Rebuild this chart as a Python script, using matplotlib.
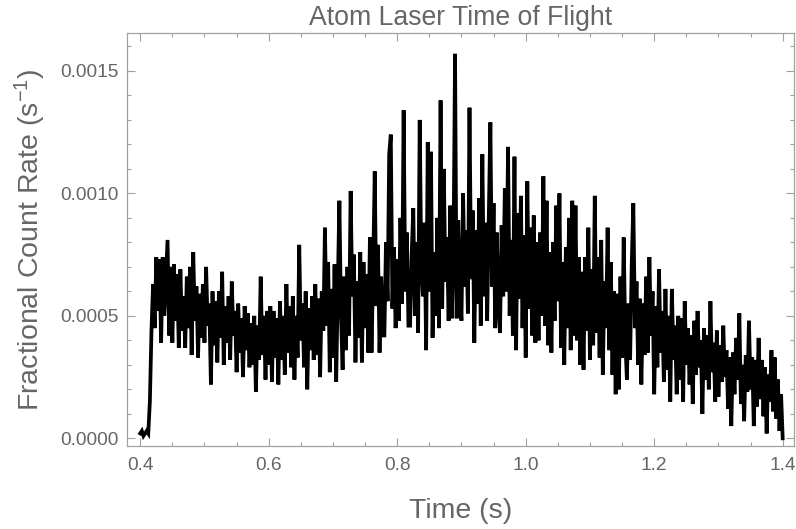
import numpy as np
import matplotlib
matplotlib.use("Agg")
import matplotlib.pyplot as plt
from matplotlib.ticker import MultipleLocator, FormatStrFormatter

# time of flight trace, sampled every 2.5 ms from 0.40 s to 1.40 s
# values read off the picture, in units of 1e-4 s^-1
t_start = 0.40
t_step = 0.0025
rate_e4 = [
    0.2, 0.3, 0.1, 0.2, 0.3, 0.2, 1.5, 4.4,
    6.3, 4.5, 7.4, 5.2, 7.3, 3.9, 7.4, 5.0,
    6.6, 8.1, 4.2, 7.0, 3.9, 7.1, 4.8, 6.7,
    3.7, 6.9, 4.4, 5.8, 3.7, 6.6, 4.5, 7.0,
    3.4, 7.6, 4.8, 6.2, 3.3, 5.9, 4.1, 6.3,
    3.9, 7.0, 4.6, 5.5, 2.2, 6.0, 3.8, 5.6,
    3.1, 6.0, 4.1, 6.8, 3.0, 5.4, 3.9, 5.8,
    3.2, 6.4, 4.2, 5.2, 2.7, 5.5, 3.5, 4.9,
    2.5, 5.4, 3.6, 5.1, 2.9, 4.7, 3.0, 5.0,
    1.9, 4.6, 3.2, 6.6, 3.4, 5.0, 2.4, 5.2,
    3.0, 5.4, 2.3, 5.2, 3.3, 4.9, 2.2, 5.6,
    3.2, 5.0, 2.6, 6.3, 3.5, 5.4, 2.9, 5.8,
    2.4, 5.0, 3.3, 7.9, 4.0, 5.5, 2.9, 6.0,
    2.0, 5.3, 3.6, 5.8, 3.2, 6.3, 3.4, 5.7,
    2.5, 6.0, 4.4, 8.6, 4.6, 7.2, 2.7, 6.1,
    3.3, 7.1, 2.3, 6.2, 9.7, 5.0, 2.8, 6.6,
    3.6, 7.0, 4.2, 10.1, 5.8, 7.5, 3.1, 6.4,
    4.1, 7.6, 3.1, 7.2, 4.5, 6.7, 3.5, 8.2,
    3.5, 6.9, 10.9, 5.4, 7.9, 3.5, 6.6, 4.2,
    4.2, 8.0, 5.6, 11.6, 12.4, 5.3, 7.8, 4.5,
    7.3, 4.8, 9.0, 5.5, 13.4, 6.0, 8.4, 4.6,
    4.6, 7.5, 9.4, 5.0, 8.0, 4.3, 13.0, 7.0,
    5.8, 8.8, 3.6, 12.1, 6.0, 11.7, 4.1, 7.6,
    5.0, 9.0, 4.5, 13.8, 5.3, 11.0, 6.4, 8.2,
    4.8, 9.5, 4.9, 7.2, 15.7, 4.9, 8.9, 6.0,
    4.8, 10.0, 6.2, 8.5, 5.1, 13.5, 6.5, 9.3,
    3.9, 8.5, 5.5, 9.8, 4.6, 11.6, 5.8, 8.8,
    4.8, 9.0, 12.9, 6.2, 9.6, 4.5, 8.4, 5.4,
    4.3, 8.7, 5.8, 10.2, 6.0, 11.9, 5.0, 8.1,
    4.2, 11.5, 3.6, 9.2, 5.7, 9.9, 4.5, 8.3,
    3.3, 10.5, 5.3, 8.6, 4.2, 9.1, 3.9, 8.0,
    4.0, 8.4, 5.0, 10.7, 4.6, 9.7, 3.8, 7.6,
    3.5, 8.0, 4.8, 9.5, 5.6, 10.0, 3.7, 7.2,
    3.0, 7.8, 4.5, 9.0, 3.6, 9.7, 4.2, 9.5,
    4.0, 7.4, 3.0, 6.8, 2.8, 7.4, 4.4, 8.6,
    3.2, 6.9, 3.8, 9.9, 4.3, 7.4, 3.3, 8.1,
    2.6, 6.4, 4.5, 8.6, 3.6, 7.2, 2.6, 6.0,
    1.8, 5.9, 2.0, 6.6, 3.3, 8.2, 4.0, 2.4,
    5.5, 3.2, 7.1, 9.6, 4.5, 6.4, 3.0, 5.7,
    2.2, 5.5, 3.4, 6.6, 3.5, 7.4, 4.2, 6.0,
    1.8, 5.4, 2.9, 6.9, 3.5, 5.2, 2.3, 6.1,
    2.8, 5.0, 1.5, 6.1, 3.2, 4.6, 1.8, 5.0,
    2.4, 4.9, 1.5, 5.6, 3.0, 4.5, 2.2, 4.2,
    1.4, 4.8, 2.6, 5.2, 2.9, 4.0, 1.0, 4.5,
    2.4, 4.2, 2.0, 5.6, 2.7, 3.9, 1.5, 4.4,
    1.7, 3.8, 2.3, 4.6, 2.5, 3.6, 1.2, 3.3,
    0.5, 3.5, 1.8, 4.1, 2.4, 5.1, 1.4, 3.0,
    0.7, 3.4, 1.9, 4.8, 2.0, 3.3, 0.5, 3.2,
    1.3, 4.1, 1.6, 3.2, 0.9, 2.9, 0.2, 2.6,
    1.5, 3.6, 1.1, 3.3, 0.8, 2.4, 0.3, 1.8,
    0.0,
]

x_ticks = [0.4, 0.6, 0.8, 1.0, 1.2, 1.4]
y_ticks = [0.0, 0.0005, 0.0010, 0.0015]

rate = np.array(rate_e4) * 1e-4
t = t_start + t_step * np.arange(len(rate))

plt.rcParams['font.family'] = ['Liberation Sans', 'DejaVu Sans']
plt.rcParams['mathtext.default'] = 'regular'

text_grey = '#666666'
frame_grey = '#a0a0a0'

fig = plt.figure(figsize=(7.96, 5.29), dpi=100)
ax = fig.add_axes([127 / 796, 83 / 529, 667 / 796, 413 / 529])

ax.plot(t, rate, color='black', linewidth=2.7, solid_joinstyle='miter')

ax.set_xlim(0.3794, 1.4176)
ax.set_ylim(-3.14e-5, 1.655e-3)

ax.xaxis.set_major_locator(MultipleLocator(0.2))
ax.xaxis.set_minor_locator(MultipleLocator(0.05))
ax.yaxis.set_major_locator(MultipleLocator(0.0005))
ax.yaxis.set_minor_locator(MultipleLocator(0.0001))
ax.xaxis.set_major_formatter(FormatStrFormatter('%.1f'))
ax.yaxis.set_major_formatter(FormatStrFormatter('%.4f'))
ax.set_xticks(x_ticks)
ax.set_yticks(y_ticks)

ax.tick_params(which='both', direction='in', top=True, right=True,
               color=frame_grey, width=0.8, labelcolor=text_grey,
               labelsize=13.8)
ax.tick_params(which='major', length=5.5)
ax.tick_params(which='minor', length=3)
ax.tick_params(axis='x', pad=8)
ax.tick_params(axis='y', pad=6)

for spine in ax.spines.values():
    spine.set_color(frame_grey)
    spine.set_linewidth(0.9)

ax.set_title('Atom Laser Time of Flight', fontsize=19.2, color=text_grey, pad=6)
ax.set_xlabel('Time (s)', fontsize=20.5, color=text_grey, labelpad=17)
ax.set_ylabel('Fractional Count Rate (s$^{-1}$)', fontsize=20.5,
              color=text_grey, labelpad=9)

fig.savefig('out.png', dpi=100)
